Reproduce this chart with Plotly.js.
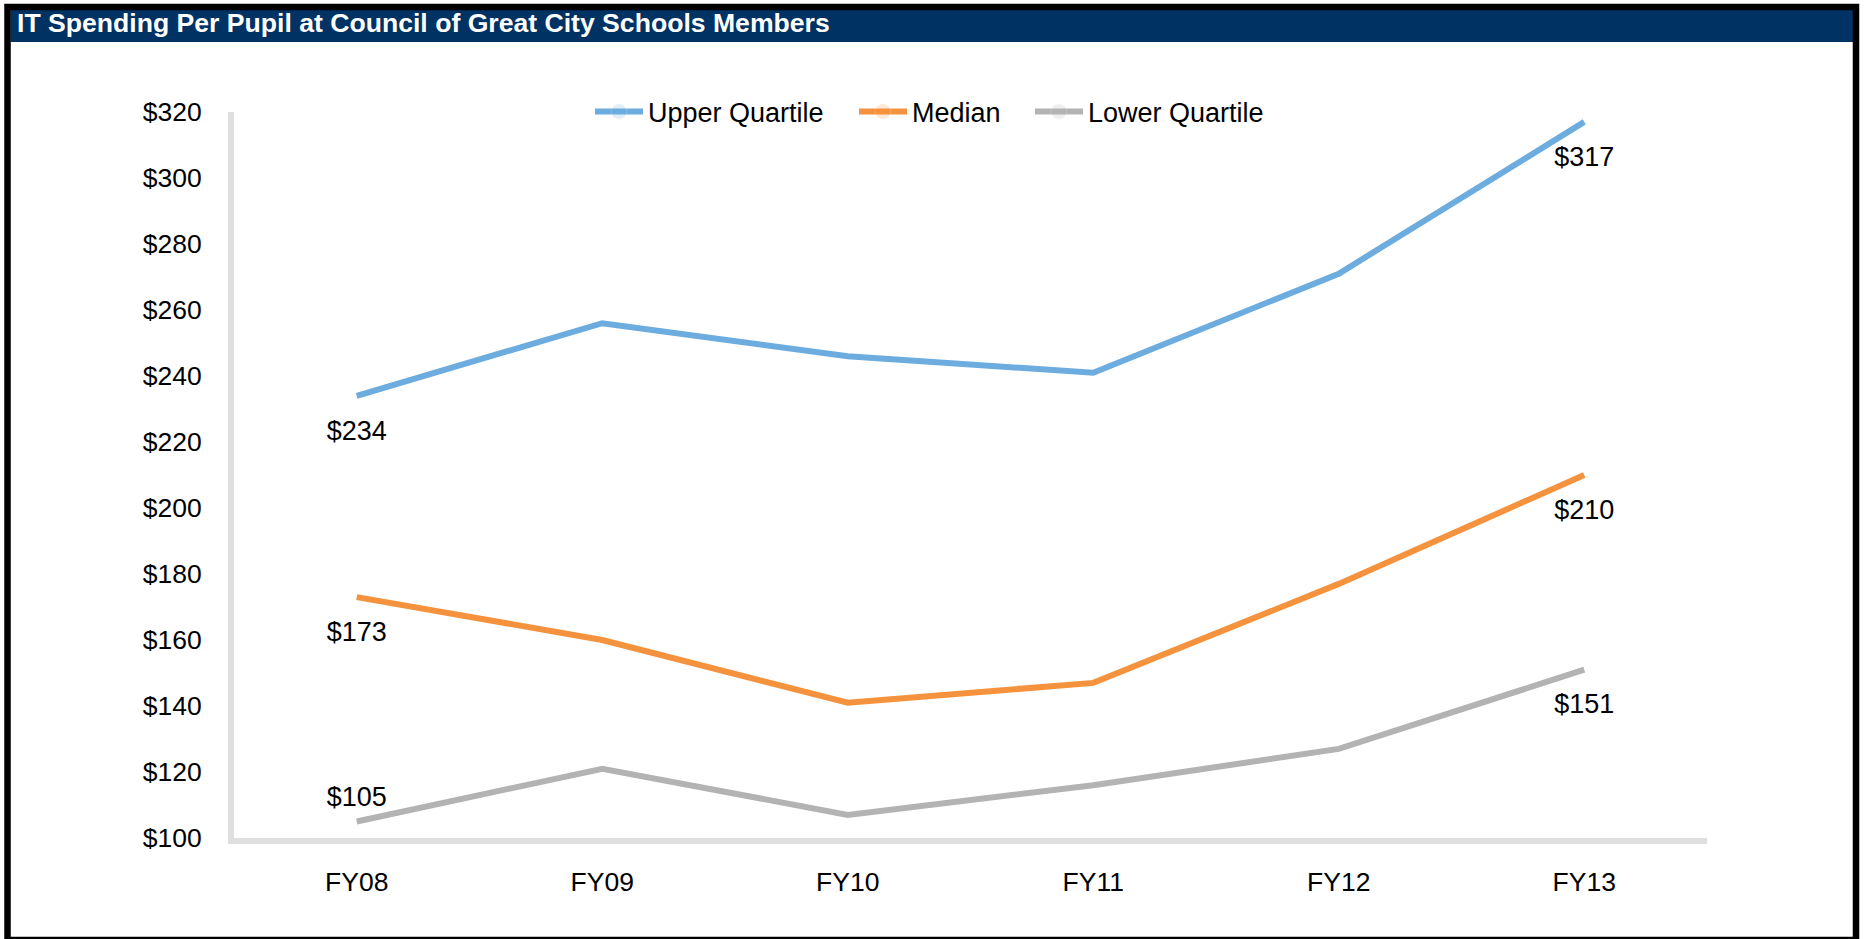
<!DOCTYPE html>
<html>
<head>
<meta charset="utf-8">
<script src="https://cdn.plot.ly/plotly-3.0.1.min.js"></script>
<style>
  html, body { margin: 0; padding: 0; background: #ffffff; }
  #chart { width: 1864px; height: 939px; }
</style>
</head>
<body>
<div id="chart"></div>
<script>
// ---- data ----
const chartTitle = "IT Spending Per Pupil at Council of Great City Schools Members";
const years = ["FY08", "FY09", "FY10", "FY11", "FY12", "FY13"];
const upperQuartile = [234, 256, 246, 241, 271, 317];
const median = [173, 160, 141, 147, 177, 210];
const lowerQuartile = [105, 121, 107, 116, 127, 151];
const seriesNames = ["Upper Quartile", "Median", "Lower Quartile"];

// ---- layout geometry (pixels) ----
const W = 1864, H = 939;
const M = { l: 234, r: 157, t: 112, b: 101 };
const PW = W - M.l - M.r, PH = H - M.t - M.b;
const px = x => (x - M.l) / PW;
const py = y => (H - M.b - y) / PH;

const FONT = "Liberation Sans, Arial, Helvetica, sans-serif";
const FS = 27;
const TICK_FS = 26.5;

function endLabels(vals) {
  return vals.map((v, i) => (i === 0 || i === vals.length - 1) ? "$" + v : "");
}

function makeTrace(name, vals, color, positions, sizes, legendId) {
  return {
    type: "scatter",
    mode: "lines+markers+text",
    name: name,
    legend: legendId,
    x: years,
    y: vals,
    text: endLabels(vals),
    textposition: positions,
    textfont: { family: FONT, size: FS, color: "#000000" },
    line: { color: color, width: 6 },
    marker: { size: sizes, color: color, opacity: 0 },
    cliponaxis: false,
    hoverinfo: "x+y+name"
  };
}

const n = years.length;
const bottomAll = Array(n).fill("bottom center");
const bigMarkers = Array(n).fill(36);
const lowerPos = bottomAll.slice(); lowerPos[0] = "top center";
const lowerSizes = bigMarkers.slice(); lowerSizes[0] = 12;

const traces = [
  makeTrace(seriesNames[0], upperQuartile, "#6CACDE", bottomAll, bigMarkers, "legend"),
  makeTrace(seriesNames[1], median, "#F5923E", bottomAll, bigMarkers, "legend2"),
  makeTrace(seriesNames[2], lowerQuartile, "#B3B3B3", lowerPos, lowerSizes, "legend3")
];

function legendAt(xPix) {
  return {
    orientation: "h",
    x: px(xPix), xanchor: "left",
    y: py(112), yanchor: "middle",
    itemwidth: 48,
    font: { family: FONT, size: FS, color: "#000000" },
    bgcolor: "rgba(0,0,0,0)"
  };
}

const layout = {
  width: W, height: H,
  margin: M,
  paper_bgcolor: "#ffffff",
  plot_bgcolor: "#ffffff",
  font: { family: FONT, size: FS, color: "#000000" },
  title: {
    text: "<b>" + chartTitle + "</b>",
    font: { family: FONT, size: 26.6, color: "#ffffff" },
    x: 17 / W, xanchor: "left", xref: "container",
    y: 1 - 23 / H, yanchor: "middle", yref: "container"
  },
  showlegend: true,
  legend: legendAt(590),
  legend2: legendAt(854),
  legend3: legendAt(1030),
  xaxis: {
    type: "category",
    range: [-0.5, 5.5],
    showgrid: false, zeroline: false,
    showline: true, linecolor: "#DFDFDF", linewidth: 6,
    ticks: "", ticklabelstandoff: 15,
    tickfont: { family: FONT, size: TICK_FS, color: "#000000" },
    fixedrange: true
  },
  yaxis: {
    range: [100, 320],
    dtick: 20, tick0: 100,
    tickprefix: "$",
    showgrid: false, zeroline: false,
    showline: true, linecolor: "#DFDFDF", linewidth: 6,
    ticks: "", ticklabelstandoff: 21,
    tickfont: { family: FONT, size: TICK_FS, color: "#000000" },
    fixedrange: true
  },
  shapes: [
    { type: "rect", xref: "paper", yref: "paper", layer: "above",
      x0: px(10.5), x1: px(1853), y0: py(42), y1: py(10),
      fillcolor: "#003264", line: { width: 0 } },
    { type: "rect", xref: "paper", yref: "paper", layer: "above",
      x0: px(7.5), x1: px(1856), y0: py(940), y1: py(7),
      fillcolor: "rgba(0,0,0,0)", line: { color: "#000000", width: 6.5 } }
  ]
};

Plotly.newPlot("chart", traces, layout, { displayModeBar: false, staticPlot: true });
</script>
</body>
</html>
